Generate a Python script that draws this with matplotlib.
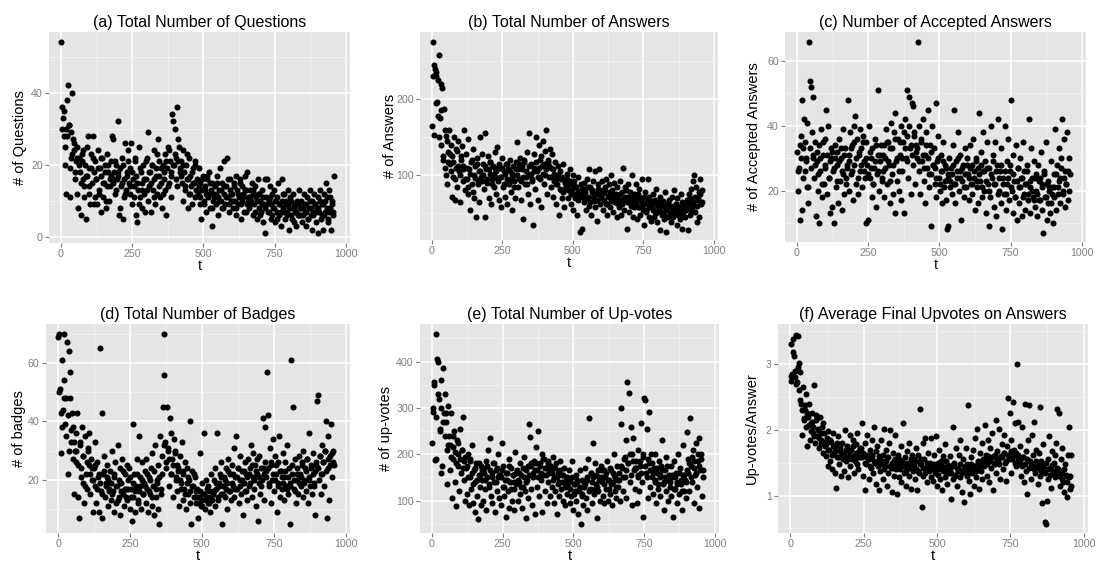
import numpy as np
import matplotlib
matplotlib.use("Agg")
import matplotlib.pyplot as plt
from matplotlib.ticker import MultipleLocator

# Значення.
# Перший список кожної панелі: t = 1, 4, 7, ...; другий: t = 3, 9, 15, ...

questions = [
    54, 36, 33, 28, 25, 12, 30, 38, 42, 31, 11, 29, 22, 40, 27, 24, 16, 21, 25, 12,
    8, 22, 18, 6, 21, 16, 24, 14, 20, 5, 17, 28, 12, 19, 9, 23, 15, 28, 18, 11,
    21, 16, 9, 24, 13, 19, 7, 17, 22, 11, 15, 20, 8, 23, 14, 18, 10, 16, 21, 28,
    27, 15, 18, 12, 20, 16, 32, 17, 6, 19, 14, 22, 5, 16, 11, 26, 13, 18, 21, 15,
    12, 19, 26, 9, 16, 14, 21, 6, 17, 4, 13, 25, 11, 18, 8, 15, 20, 12, 7, 16,
    22, 10, 29, 14, 18, 7, 20, 13, 24, 16, 9, 19, 12, 27, 17, 21, 11, 15, 8, 20,
    16, 23, 13, 6, 19, 25, 15, 21, 11, 18, 34, 32, 20, 30, 22, 36, 14, 27, 25, 19,
    21, 15, 24, 10, 18, 13, 20, 16, 8, 22, 12, 17, 14, 9, 19, 15, 11, 21, 13, 16,
    12, 19, 9, 15, 5, 13, 17, 10, 14, 7, 12, 16, 11, 18, 8, 13, 3, 15, 10, 12,
    14, 9, 17, 11, 6, 13, 19, 10, 15, 8, 12, 21, 9, 14, 22, 11, 7, 13, 16, 10,
    12, 8, 15, 10, 17, 6, 13, 9, 11, 16, 5, 14, 10, 12, 7, 17, 13, 9, 18, 11,
    8, 13, 10, 15, 6, 12, 9, 14, 11, 5, 16, 8, 12, 10, 7, 13, 4, 9, 1, 16,
    11, 16, 7, 10, 14, 5, 9, 12, 8, 13, 4, 10, 7, 11, 15, 6, 9, 3, 16, 12,
    8, 12, 5, 10, 7, 13, 9, 2, 11, 6, 8, 12, 4, 9, 7, 3, 10, 6, 13, 8,
    6, 10, 4, 8, 12, 7, 3, 9, 11, 5, 8, 13, 6, 10, 2, 7, 12, 9, 4, 8,
    11, 1, 7, 13, 5, 9, 2, 12, 6, 10, 15, 8, 4, 13, 7, 11, 2, 9, 6, 17,
]
questions_2 = [
    30, 35, 20, 28, 31, 19, 23, 26, 18, 22,
    20, 15, 23, 11, 17, 25, 14, 19, 22, 9,
    16, 19, 12, 22, 15, 18, 10, 20, 14, 17,
    16, 21, 13, 18, 8, 15, 20, 12, 17, 24,
    14, 18, 11, 22, 15, 9, 19, 13, 16, 21,
    13, 18, 15, 20, 11, 17, 23, 14, 19, 12,
    18, 21, 14, 24, 17, 20, 23, 16, 21, 18,
    17, 20, 14, 23, 16, 12, 18, 15, 20, 13,
    14, 11, 16, 9, 13, 17, 12, 15, 8, 11,
    12, 15, 10, 13, 8, 14, 11, 16, 9, 12,
    10, 14, 8, 12, 15, 9, 11, 13, 7, 10,
    11, 9, 13, 7, 10, 12, 6, 9, 11, 8,
    9, 7, 11, 6, 8, 10, 5, 9, 7, 10,
    7, 9, 6, 8, 10, 5, 8, 7, 9, 6,
    8, 6, 9, 7, 5, 10, 8, 6, 9, 7,
    8, 10, 6, 9, 7, 11, 5, 8, 10, 7,
]

answers = [
    165, 275, 153, 240, 230, 235, 196, 225, 258, 175, 220, 185, 215, 120, 187, 160, 100, 145, 88, 130,
    160, 115, 140, 72, 125, 98, 150, 68, 110, 132, 85, 145, 105, 65, 120, 138, 92, 112, 160, 80,
    128, 95, 148, 75, 108, 55, 118, 88, 135, 100, 70, 112, 45, 122, 92, 105, 65, 150, 98, 128,
    115, 82, 155, 45, 108, 90, 125, 70, 102, 118, 62, 95, 112, 85, 130, 75, 105, 137, 92, 68,
    110, 58, 98, 122, 85, 105, 72, 115, 95, 62, 108, 88, 120, 78, 102, 55, 112, 92, 70, 118,
    143, 85, 108, 95, 122, 68, 112, 98, 42, 118, 88, 105, 130, 75, 155, 100, 62, 115, 92, 35,
    110, 128, 82, 150, 105, 68, 140, 95, 120, 58, 112, 145, 88, 132, 100, 160, 75, 118, 98, 135,
    110, 85, 128, 72, 102, 118, 62, 95, 88, 112, 48, 105, 80, 98, 70, 115, 58, 92, 84, 102,
    95, 70, 88, 108, 62, 82, 100, 55, 92, 75, 85, 48, 98, 68, 78, 25, 88, 30, 72, 90,
    65, 82, 55, 95, 72, 108, 60, 85, 48, 78, 92, 66, 105, 58, 75, 40, 88, 108, 62, 80,
    70, 92, 55, 78, 85, 62, 95, 48, 73, 88, 58, 100, 68, 80, 52, 90, 65, 75, 45, 85,
    70, 58, 92, 48, 78, 65, 110, 55, 85, 72, 30, 68, 88, 52, 78, 62, 100, 45, 72, 58,
    65, 88, 42, 75, 58, 82, 48, 70, 95, 55, 62, 35, 78, 52, 68, 95, 45, 72, 60, 40,
    58, 75, 45, 68, 52, 82, 38, 62, 55, 72, 28, 60, 48, 66, 42, 78, 25, 55, 62, 45,
    68, 50, 58, 38, 72, 45, 80, 55, 62, 35, 70, 48, 58, 42, 75, 30, 65, 52, 60, 45,
    55, 68, 28, 62, 75, 48, 82, 58, 92, 65, 100, 52, 85, 38, 70, 78, 45, 95, 62, 80,
]
answers_2 = [
    230, 245, 195, 178, 150, 140, 125, 110, 152, 118,
    128, 105, 118, 95, 135, 112, 100, 125, 108, 95,
    110, 85, 102, 120, 78, 96, 115, 88, 105, 92,
    100, 112, 95, 108, 118, 88, 102, 110, 96, 115,
    98, 110, 88, 102, 115, 92, 105, 98, 85, 108,
    100, 115, 92, 108, 120, 98, 88, 112, 102, 95,
    105, 118, 98, 110, 125, 102, 115, 108, 120, 112,
    98, 108, 92, 88, 100, 82, 95, 78, 90, 85,
    80, 92, 75, 88, 70, 85, 78, 72, 82, 76,
    78, 70, 85, 65, 80, 72, 76, 68, 82, 74,
    75, 68, 80, 62, 72, 78, 66, 74, 70, 64,
    68, 75, 62, 70, 80, 65, 72, 60, 68, 75,
    62, 70, 58, 66, 60, 72, 55, 64, 58, 66,
    55, 62, 50, 58, 65, 52, 60, 48, 56, 62,
    52, 60, 48, 56, 62, 50, 58, 54, 46, 60,
    58, 65, 70, 55, 62, 72, 60, 68, 75, 65,
]

accepted = [
    32, 20, 27, 11, 37, 48, 14, 33, 42, 26, 30, 21, 41, 16, 66, 54, 52, 38, 49, 30,
    24, 35, 12, 29, 20, 10, 34, 26, 39, 18, 31, 22, 36, 28, 45, 19, 40, 24, 13, 33,
    30, 15, 26, 10, 34, 21, 32, 28, 16, 36, 23, 30, 14, 39, 25, 19, 33, 22, 27, 48,
    31, 20, 38, 25, 34, 17, 40, 28, 43, 22, 36, 19, 31, 26, 39, 33, 21, 37, 29, 24,
    10, 35, 28, 11, 40, 24, 30, 18, 33, 22, 27, 36, 15, 25, 31, 51, 20, 29, 34, 23,
    26, 34, 18, 30, 39, 22, 35, 28, 16, 33, 41, 25, 19, 38, 13, 44, 29, 23, 36, 20,
    31, 17, 40, 26, 35, 13, 42, 30, 51, 37, 24, 49, 33, 19, 47, 28, 46, 38, 22, 34,
    30, 66, 26, 40, 19, 35, 29, 42, 23, 31, 16, 38, 27, 45, 21, 34, 9, 25, 40, 28,
    33, 22, 47, 18, 29, 37, 24, 20, 31, 16, 26, 35, 21, 28, 17, 8, 24, 9, 30, 23,
    27, 19, 34, 22, 45, 16, 29, 24, 38, 20, 26, 31, 11, 23, 28, 18, 33, 25, 21, 30,
    25, 17, 34, 22, 28, 19, 36, 24, 14, 30, 21, 27, 16, 44, 23, 32, 18, 26, 38, 20,
    29, 13, 35, 22, 9, 27, 18, 40, 24, 31, 15, 22, 35, 12, 28, 42, 20, 26, 16, 33,
    8, 24, 19, 40, 14, 29, 22, 36, 17, 26, 48, 20, 13, 31, 23, 18, 34, 11, 27, 21,
    16, 30, 24, 12, 35, 19, 26, 14, 22, 28, 17, 42, 21, 13, 33, 24, 18, 29, 15, 25,
    20, 12, 28, 17, 24, 32, 14, 22, 7, 26, 18, 35, 11, 23, 16, 21, 13, 29, 19, 10,
    25, 18, 39, 14, 28, 21, 33, 16, 24, 30, 42, 19, 36, 15, 26, 22, 38, 17, 30, 25,
]
accepted_2 = [
    26, 34, 30, 24, 35, 29, 21, 33, 27, 31,
    28, 32, 25, 30, 22, 35, 27, 31, 24, 29,
    32, 27, 30, 23, 29, 33, 26, 31, 24, 28,
    29, 33, 26, 35, 30, 24, 32, 28, 35, 26,
    30, 25, 32, 27, 22, 29, 34, 26, 31, 24,
    31, 27, 35, 29, 23, 33, 28, 36, 30, 26,
    35, 30, 38, 33, 29, 40, 34, 31, 37, 32,
    33, 29, 36, 31, 27, 34, 30, 25, 32, 28,
    27, 24, 30, 22, 26, 29, 23, 27, 25, 21,
    25, 28, 22, 26, 30, 24, 27, 21, 25, 28,
    24, 27, 22, 26, 29, 23, 25, 28, 21, 26,
    23, 27, 20, 25, 29, 22, 26, 19, 24, 28,
    22, 26, 19, 24, 28, 21, 25, 18, 23, 27,
    21, 24, 18, 22, 26, 19, 23, 20, 17, 24,
    19, 23, 17, 21, 25, 18, 22, 20, 16, 21,
    21, 25, 19, 23, 27, 20, 24, 22, 26, 20,
]

badges = [
    69, 70, 51, 29, 61, 44, 70, 54, 39, 48, 67, 22, 64, 57, 48, 33, 43, 38, 15, 30,
    36, 26, 43, 14, 7, 32, 24, 38, 19, 28, 12, 35, 22, 17, 30, 25, 36, 15, 27, 20,
    9, 24, 33, 18, 12, 26, 21, 9, 65, 16, 43, 7, 22, 28, 14, 19, 25, 11, 20, 17,
    23, 13, 30, 16, 9, 21, 26, 12, 18, 32, 14, 24, 8, 19, 27, 15, 11, 22, 17, 25,
    13, 20, 24, 10, 17, 6, 39, 14, 22, 9, 18, 27, 12, 35, 16, 21, 10, 26, 15, 19,
    23, 12, 27, 17, 9, 21, 15, 24, 11, 29, 18, 8, 32, 14, 20, 25, 10, 5, 35, 17,
    22, 45, 56, 70, 33, 26, 45, 31, 18, 41, 36, 22, 27, 14, 34, 30, 20, 25, 16, 23,
    11, 28, 19, 33, 13, 22, 17, 26, 10, 24, 15, 20, 40, 12, 5, 23, 18, 14, 21, 16,
    12, 17, 7, 14, 29, 11, 19, 13, 15, 36, 10, 20, 14, 18, 12, 16, 9, 22, 13, 15,
    20, 11, 24, 17, 36, 13, 19, 22, 15, 26, 5, 18, 21, 14, 24, 10, 19, 27, 16, 22,
    13, 25, 18, 31, 14, 21, 35, 17, 24, 12, 20, 28, 15, 23, 8, 19, 26, 16, 22, 13,
    27, 18, 24, 32, 14, 21, 29, 17, 25, 11, 22, 6, 28, 19, 15, 24, 20, 41, 13, 26,
    38, 23, 57, 42, 18, 31, 12, 25, 20, 34, 16, 28, 22, 9, 26, 19, 35, 14, 23, 17,
    29, 21, 13, 26, 18, 32, 15, 24, 19, 5, 61, 22, 45, 17, 27, 12, 24, 20, 15, 28,
    22, 18, 26, 14, 30, 20, 24, 16, 27, 12, 21, 36, 18, 25, 15, 29, 19, 23, 8, 26,
    47, 49, 20, 28, 15, 32, 22, 26, 18, 30, 40, 7, 24, 35, 13, 28, 39, 21, 30, 25,
]
badges_2 = [
    50, 43, 38, 48, 35, 42, 30, 37, 27, 33,
    30, 25, 33, 21, 28, 18, 26, 31, 22, 24,
    20, 25, 17, 22, 19, 15, 23, 18, 21, 16,
    19, 15, 22, 18, 13, 20, 16, 23, 17, 14,
    17, 21, 14, 19, 16, 22, 13, 18, 20, 15,
    18, 22, 16, 20, 14, 23, 17, 19, 21, 15,
    28, 32, 24, 30, 27, 22, 25, 29, 21, 24,
    20, 17, 23, 15, 19, 21, 16, 18, 22, 14,
    14, 12, 16, 11, 15, 13, 17, 12, 14, 16,
    16, 19, 14, 18, 21, 15, 20, 17, 23, 16,
    19, 22, 17, 21, 24, 18, 20, 23, 16, 21,
    22, 19, 25, 20, 23, 27, 21, 18, 24, 22,
    21, 24, 19, 26, 22, 20, 25, 18, 23, 21,
    19, 23, 17, 21, 18, 25, 20, 16, 22, 19,
    21, 25, 19, 23, 27, 20, 24, 22, 18, 25,
    24, 28, 22, 26, 30, 23, 27, 25, 29, 26,
]

upvotes = [
    225, 292, 350, 188, 190, 460, 405, 400, 320, 255, 160, 360, 175, 385, 290, 330, 270, 210, 135, 305,
    240, 165, 290, 105, 215, 190, 250, 140, 88, 230, 175, 200, 120, 255, 160, 210, 280, 145, 185, 100,
    170, 115, 200, 90, 150, 185, 125, 220, 95, 165, 140, 75, 180, 110, 60, 155, 130, 90, 175, 145,
    100, 170, 125, 185, 80, 150, 210, 135, 235, 110, 160, 95, 180, 140, 75, 165, 120, 200, 150, 105,
    155, 90, 225, 130, 175, 110, 145, 65, 160, 120, 190, 85, 140, 170, 100, 155, 125, 80, 205, 135,
    165, 100, 140, 180, 115, 155, 85, 130, 195, 120, 62, 165, 145, 105, 265, 238, 175, 125, 90, 150,
    185, 70, 215, 130, 165, 250, 110, 180, 145, 200, 75, 155, 190, 120, 170, 95, 185, 140, 160, 110,
    175, 130, 195, 95, 150, 120, 180, 70, 160, 140, 110, 185, 125, 155, 100, 170, 135, 90, 145, 115,
    130, 165, 95, 145, 110, 185, 80, 135, 120, 155, 100, 140, 70, 125, 165, 50, 115, 145, 90, 130,
    170, 105, 145, 80, 190, 278, 125, 160, 95, 150, 225, 115, 180, 135, 62, 165, 120, 150, 100, 175,
    140, 110, 165, 95, 150, 125, 185, 100, 145, 170, 115, 135, 90, 160, 200, 120, 150, 105, 175, 130,
    145, 100, 300, 265, 170, 120, 190, 150, 230, 105, 355, 180, 332, 140, 258, 200, 90, 235, 165, 125,
    185, 95, 150, 210, 120, 175, 268, 140, 65, 195, 322, 318, 160, 255, 105, 292, 180, 130, 200, 150,
    115, 170, 140, 200, 95, 160, 125, 185, 150, 110, 175, 230, 135, 80, 165, 120, 195, 145, 100, 155,
    130, 175, 110, 150, 65, 185, 125, 160, 95, 140, 200, 115, 170, 135, 80, 155, 220, 120, 145, 105,
    248, 160, 190, 120, 278, 175, 140, 210, 95, 185, 155, 225, 130, 200, 85, 235, 165, 190, 110, 150,
]
upvotes_2 = [
    300, 355, 280, 330, 250, 300, 270, 240, 290, 220,
    220, 195, 240, 205, 180, 225, 190, 210, 170, 195,
    175, 150, 190, 160, 135, 170, 145, 180, 155, 165,
    160, 145, 175, 130, 165, 150, 180, 140, 170, 155,
    150, 165, 130, 160, 145, 175, 125, 155, 140, 160,
    145, 160, 130, 170, 150, 140, 175, 155, 180, 160,
    165, 180, 150, 175, 160, 190, 170, 155, 180, 165,
    160, 145, 170, 150, 135, 165, 140, 155, 130, 150,
    140, 125, 150, 115, 135, 145, 120, 130, 110, 140,
    135, 150, 120, 160, 140, 125, 155, 130, 145, 165,
    150, 135, 160, 145, 125, 165, 140, 155, 130, 145,
    160, 175, 150, 195, 165, 180, 200, 155, 185, 170,
    170, 155, 185, 160, 200, 175, 150, 190, 165, 180,
    160, 145, 170, 135, 155, 165, 140, 150, 175, 145,
    140, 155, 125, 150, 135, 160, 145, 120, 155, 140,
    165, 180, 150, 195, 170, 160, 185, 175, 200, 165,
]

per_answer = [
    2.75, 3.30, 2.85, 3.38, 3.12, 2.80, 3.45, 2.72, 3.42, 2.60, 3.02, 2.88, 2.40, 1.92, 2.65, 2.18, 2.30, 2.05, 2.55, 1.75,
    2.20, 2.40, 1.85, 2.10, 2.25, 1.95, 2.05, 2.68, 1.80, 2.15, 1.90, 2.00, 1.72, 2.20, 1.85, 1.78, 2.05, 1.65, 1.95, 1.75,
    1.60, 1.88, 1.45, 1.98, 1.70, 1.52, 1.82, 1.40, 1.95, 1.65, 1.35, 1.75, 1.12, 1.58, 1.90, 1.48, 1.68, 1.30, 1.80, 1.55,
    1.65, 1.38, 2.00, 1.52, 1.75, 1.28, 1.60, 1.92, 1.45, 1.70, 1.55, 1.85, 1.35, 1.62, 1.78, 1.48, 1.95, 1.40, 1.68, 1.58,
    1.72, 2.10, 1.30, 1.60, 1.08, 1.80, 1.48, 1.92, 1.55, 1.25, 1.70, 1.42, 1.85, 1.62, 1.35, 2.05, 1.50, 1.18, 1.75, 1.45,
    1.08, 1.60, 1.38, 1.85, 1.52, 1.25, 2.02, 1.45, 1.70, 1.15, 1.58, 1.35, 1.80, 2.00, 1.42, 1.05, 1.65, 1.30, 1.52, 1.92,
    1.40, 1.02, 1.62, 1.28, 1.50, 1.75, 1.20, 1.45, 2.10, 1.35, 1.58, 1.15, 1.68, 1.42, 1.30, 1.80, 1.50, 1.10, 1.62, 1.38,
    1.55, 1.25, 1.72, 1.40, 1.08, 1.62, 1.35, 2.32, 1.48, 0.82, 1.80, 1.30, 1.55, 1.88, 1.42, 1.20, 1.65, 1.38, 1.50, 1.28,
    1.88, 1.45, 1.22, 1.62, 1.38, 1.90, 1.15, 1.50, 1.32, 1.70, 1.25, 1.48, 1.08, 1.60, 1.40, 1.78, 1.28, 1.52, 1.18, 1.42,
    1.35, 1.60, 0.95, 1.45, 1.25, 2.05, 1.50, 1.30, 1.72, 1.15, 1.40, 1.62, 1.28, 1.85, 1.38, 1.05, 1.55, 0.90, 1.45, 1.72,
    1.30, 1.48, 2.38, 1.22, 1.02, 1.58, 1.35, 1.70, 1.15, 1.45, 1.88, 1.28, 2.02, 1.52, 1.10, 1.65, 1.38, 1.80, 1.25, 1.55,
    1.45, 2.08, 1.62, 1.30, 1.85, 1.55, 1.20, 1.72, 1.42, 1.95, 1.08, 1.60, 1.48, 2.15, 1.35, 1.68, 1.52, 2.02, 1.25, 1.58,
    1.78, 1.40, 1.65, 1.92, 1.50, 1.22, 1.75, 2.48, 1.60, 2.25, 1.35, 1.85, 1.55, 2.42, 1.70, 2.10, 1.45, 3.00, 1.62, 2.12,
    1.48, 1.75, 1.30, 2.05, 1.58, 1.20, 2.40, 1.68, 1.38, 1.02, 1.85, 2.38, 1.52, 1.25, 1.92, 1.42, 1.62, 2.12, 1.35, 1.70,
    1.45, 1.18, 1.65, 2.35, 1.30, 1.52, 0.88, 1.78, 1.40, 0.60, 0.57, 0.92, 1.55, 1.25, 1.90, 1.42, 1.12, 1.68, 1.35, 1.50,
    1.62, 1.28, 1.80, 2.32, 1.40, 2.25, 1.15, 1.55, 1.35, 1.72, 1.20, 1.05, 1.48, 1.30, 0.98, 1.62, 2.05, 1.10, 1.30, 1.62,
]
per_answer_2 = [
    2.82, 3.18, 2.90, 2.70, 2.95, 2.45, 2.30, 2.15, 2.38, 2.25,
    2.08, 1.98, 2.12, 1.90, 2.22, 2.02, 1.88, 1.95, 2.10, 1.82,
    1.78, 1.70, 1.85, 1.62, 1.75, 1.68, 1.80, 1.58, 1.72, 1.65,
    1.62, 1.70, 1.55, 1.68, 1.60, 1.75, 1.52, 1.65, 1.58, 1.72,
    1.58, 1.65, 1.50, 1.62, 1.55, 1.45, 1.60, 1.52, 1.68, 1.48,
    1.55, 1.48, 1.62, 1.40, 1.52, 1.58, 1.45, 1.50, 1.42, 1.55,
    1.48, 1.55, 1.40, 1.52, 1.45, 1.38, 1.50, 1.42, 1.55, 1.46,
    1.45, 1.52, 1.38, 1.48, 1.55, 1.42, 1.35, 1.50, 1.44, 1.40,
    1.42, 1.48, 1.35, 1.45, 1.40, 1.52, 1.38, 1.44, 1.36, 1.46,
    1.40, 1.35, 1.46, 1.32, 1.42, 1.38, 1.48, 1.34, 1.42, 1.38,
    1.42, 1.36, 1.48, 1.40, 1.45, 1.38, 1.50, 1.42, 1.46, 1.52,
    1.55, 1.48, 1.60, 1.52, 1.58, 1.50, 1.62, 1.55, 1.48, 1.60,
    1.58, 1.65, 1.52, 1.62, 1.55, 1.68, 1.60, 1.50, 1.64, 1.56,
    1.52, 1.45, 1.58, 1.48, 1.55, 1.42, 1.50, 1.46, 1.40, 1.52,
    1.42, 1.48, 1.38, 1.45, 1.35, 1.50, 1.40, 1.32, 1.46, 1.38,
    1.35, 1.42, 1.30, 1.38, 1.25, 1.40, 1.32, 1.20, 1.28, 1.15,
]

titles = [
    "(a) Total Number of Questions",
    "(b) Total Number of Answers",
    "(c) Number of Accepted Answers",
    "(d) Total Number of Badges",
    "(e) Total Number of Up-votes",
    "(f) Average Final Upvotes on Answers",
]
ylabels = [
    "# of Questions", "# of Answers", "# of Accepted Answers",
    "# of badges", "# of up-votes", "Up-votes/Answer",
]
x_ticks = [0, 250, 500, 750, 1000]

plt.rcParams['font.family'] = ['Liberation Sans', 'DejaVu Sans']

FIG_W, FIG_H = 1099, 570

# Стиль ggplot2 (theme_grey)


def ggplot_axes(ax, ylim, ystep, yticks, title, ylabel):
    ax.set_facecolor('#E5E5E5')
    for s in ax.spines.values():
        s.set_visible(False)
    ax.set_xlim(-42, 1015)
    ax.set_ylim(*ylim)
    ax.set_xticks(x_ticks)
    ax.set_yticks(yticks)
    ax.xaxis.set_minor_locator(MultipleLocator(125))
    ax.yaxis.set_minor_locator(MultipleLocator(ystep / 2))
    ax.grid(which='minor', color='#F2F2F2', linewidth=0.6)
    ax.grid(which='major', color='white', linewidth=1.1)
    ax.set_axisbelow(True)
    ax.tick_params(which='major', length=3, width=0.8, color='#7F7F7F',
                   labelcolor='#7F7F7F', labelsize=7.7, pad=1.5)
    ax.tick_params(which='minor', length=0)
    ax.set_title(title, fontsize=11.5, pad=3.5)
    ax.set_xlabel('t', fontsize=10.5, labelpad=0)
    ax.set_ylabel(ylabel, fontsize=10.5)


def main():
    fig = plt.figure(figsize=(FIG_W / 100, FIG_H / 100), dpi=100)
    # межі панелей у пікселях: left, top, right, bottom
    boxes = [
        (49, 32, 350, 243), (420, 32, 718, 240), (785, 32, 1086, 242),
        (46, 324, 350, 533), (420, 324, 719, 533), (778, 324, 1088, 533),
    ]
    # правий край підпису осі y, пікселі
    ylabel_x = [27, 397, 761, 26, 393, 759]
    series = [(questions, questions_2), (answers, answers_2),
              (accepted, accepted_2), (badges, badges_2),
              (upvotes, upvotes_2), (per_answer, per_answer_2)]
    limits = [(-1.7, 56.8), (15, 288), (4.1, 69), (1.8, 73.3), (30, 481), (0.43, 3.61)]
    steps = [20, 100, 20, 20, 100, 1]
    ticks = [[0, 20, 40], [100, 200], [20, 40, 60], [20, 40, 60],
             [100, 200, 300, 400], [1, 2, 3]]

    for i in range(6):
        l, t_, r, b = boxes[i]
        ax = fig.add_axes([l / FIG_W, 1 - b / FIG_H, (r - l) / FIG_W, (b - t_) / FIG_H])
        y1 = np.array(series[i][0])
        y2 = np.array(series[i][1])
        t1 = np.arange(len(y1)) * 3 + 1
        t2 = np.arange(len(y2)) * 6 + 3
        ax.scatter(np.concatenate([t1, t2]), np.concatenate([y1, y2]),
                   s=19, color='black', linewidths=0, zorder=3)
        ggplot_axes(ax, limits[i], steps[i], ticks[i], titles[i], ylabels[i])
        ax.yaxis.set_label_coords((ylabel_x[i] - l) / (r - l), 0.5)

    fig.savefig('out.png', dpi=100)


if __name__ == "__main__":
    main()
